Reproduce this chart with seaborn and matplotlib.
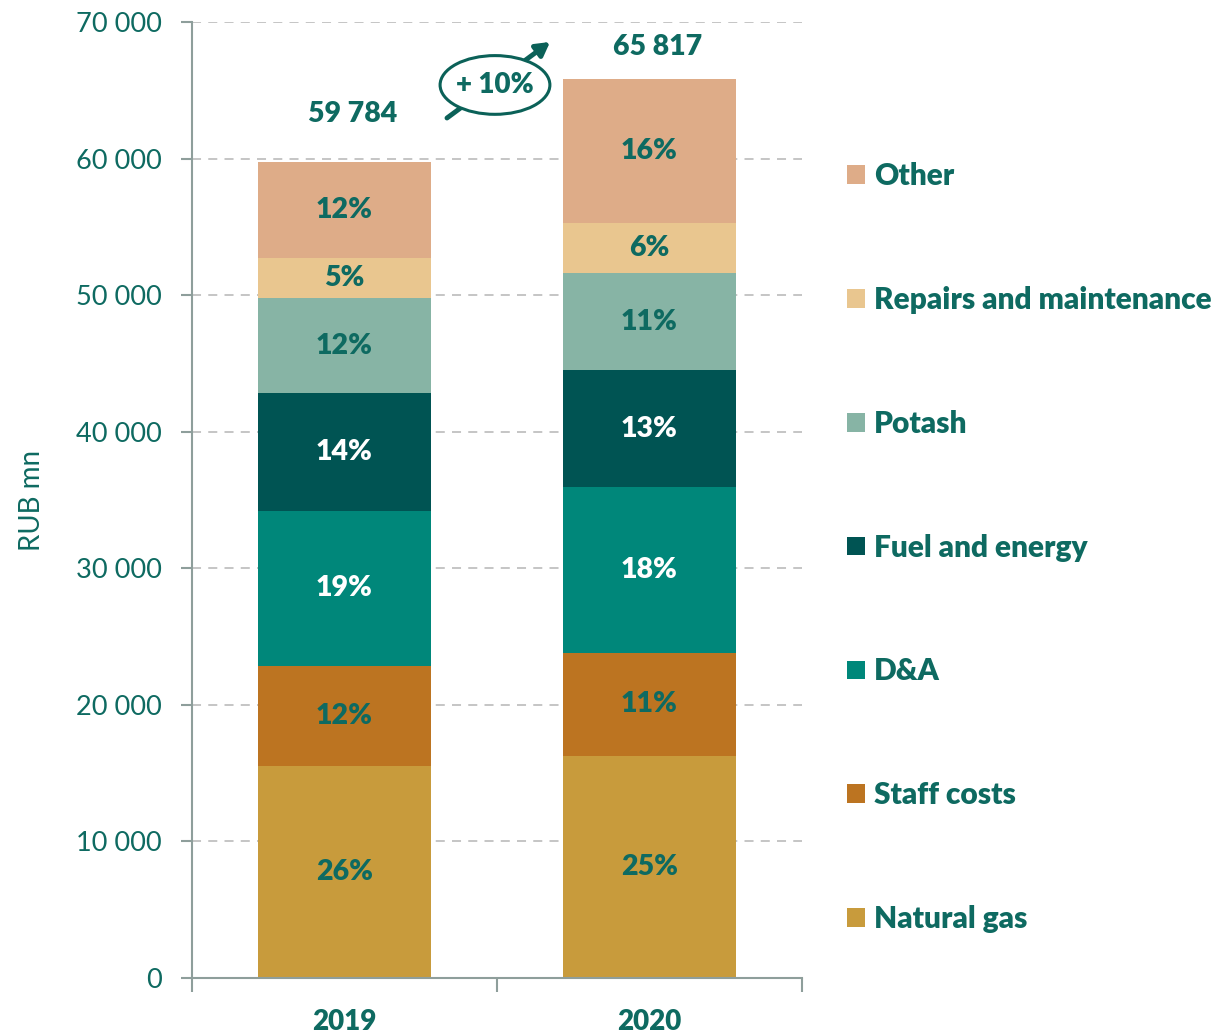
import matplotlib
matplotlib.use("Agg")
import matplotlib.pyplot as plt
from matplotlib.patches import Patch, Ellipse
import seaborn as sns
import pandas as pd
import numpy as np

years = ["2019", "2020"]
categories = ["Natural gas", "Staff costs", "D&A", "Fuel and energy", "Potash",
              "Repairs and maintenance", "Other"]
values_2019 = [15520, 7330, 11340, 8640, 6960, 2930, 7064]
values_2020 = [16260, 7540, 12150, 8570, 7100, 3660, 10537]
pct_2019 = ["26%", "12%", "19%", "14%", "12%", "5%", "12%"]
pct_2020 = ["25%", "11%", "18%", "13%", "11%", "6%", "16%"]
totals = [59784, 65817]
total_labels = ["59 784", "65 817"]
growth_label = "+ 10%"
yticks = [0, 10000, 20000, 30000, 40000, 50000, 60000, 70000]
ytick_labels = ["0", "10 000", "20 000", "30 000", "40 000", "50 000", "60 000", "70 000"]

colors = ["#C89B3C", "#BC7421", "#00877A", "#005453", "#87B4A5", "#E9C68F", "#DEAC88"]
label_colors = ["#0E6A61", "#0E6A61", "white", "white", "#0E6A61", "#0E6A61", "#0E6A61"]
TEXT = "#0E6A61"
AXIS = "#8E9E9B"
BOLD = "heavy"

sns.set_style("white")
plt.rcParams["font.family"] = ["Lato", "DejaVu Sans"]

fig = plt.figure(figsize=(12.13, 10.34), dpi=100)
ax = fig.add_axes([192/1213, 56/1034, 610/1213, 956/1034])

vals = np.array([values_2019, values_2020])
cum = np.cumsum(vals, axis=1)
df = pd.DataFrame(cum, columns=categories)
df["year"] = years

# draw cumulative bars from top to bottom so shorter ones overlay
for i in range(len(categories) - 1, -1, -1):
    sns.barplot(data=df, x="year", y=categories[i], color=colors[i], width=0.57,
                saturation=1, ax=ax, zorder=2, edgecolor="none", linewidth=0)

# percentage labels
for j, pcts in enumerate([pct_2019, pct_2020]):
    bottoms = np.concatenate([[0], cum[j][:-1]])
    for i, p in enumerate(pcts):
        mid = bottoms[i] + vals[j][i] / 2
        ax.text(j, mid, p, ha="center", va="center", fontsize=20.5, fontweight=BOLD,
                color=label_colors[i], zorder=5)

# totals
for j, (t, lab, off) in enumerate(zip(totals, total_labels, [34, 23])):
    ax.annotate(lab, xy=(j, t), xytext=(6, off), textcoords="offset points",
                ha="center", va="center", fontsize=20.5, fontweight=BOLD, color=TEXT,
                annotation_clip=False)

# growth arrow and ellipse
ax.annotate("", xy=(0.674, 68540), xytext=(0.336, 62970),
            arrowprops=dict(arrowstyle="-|>,head_length=0.8,head_width=0.45",
                            color="#0B6158", lw=3.5, shrinkA=0, shrinkB=0), zorder=6)
ell = Ellipse((0.4934, 65390), width=0.36, height=4300, facecolor="white",
              edgecolor="#0B6158", lw=2.2, zorder=7)
ax.add_patch(ell)
ax.text(0.4934, 65390, growth_label, ha="center", va="center", fontsize=20,
        fontweight=BOLD, color=TEXT, zorder=8)

# axes
ax.set_xlim(-0.5, 1.5)
ax.set_ylim(0, 70000)
ax.set_yticks(yticks)
ax.set_yticklabels(ytick_labels, fontsize=19.5, color=TEXT)
ax.set_xticks([-0.5, 0.5, 1.5])
ax.set_xticklabels([])
ax.set_xticks([0, 1], minor=True)
ax.set_xticklabels(years, minor=True, fontsize=20, fontweight=BOLD, color=TEXT)
ax.tick_params(axis="x", which="major", bottom=True, length=10, color=AXIS, width=1.5)
ax.tick_params(axis="x", which="minor", bottom=True, length=0, pad=22)
ax.tick_params(axis="y", left=True, length=8, color=AXIS, width=1.5, pad=14)
ax.set_xlabel("")
ax.set_ylabel("RUB mn", fontsize=20, color=TEXT, labelpad=22)
for s in ["top", "right"]:
    ax.spines[s].set_visible(False)
for s in ["left", "bottom"]:
    ax.spines[s].set_color(AXIS)
    ax.spines[s].set_linewidth(1.5)
ax.yaxis.grid(True, linestyle=(0, (5, 4)), color="#C0C0C0", linewidth=1.3, zorder=0)
ax.set_axisbelow(True)

# legend
handles = [Patch(facecolor=colors[i], edgecolor="none", label=categories[i])
           for i in range(len(categories) - 1, -1, -1)]
leg = ax.legend(handles=handles, loc="upper left", bbox_to_anchor=(1.055, 0.866),
                frameon=False, fontsize=21.5, labelspacing=3.21, handlelength=0.58,
                handleheight=0.58, handletextpad=0.32, borderaxespad=0)
for t in leg.get_texts():
    t.set_color(TEXT)
    t.set_fontweight(BOLD)

fig.savefig("out.png", dpi=100)
